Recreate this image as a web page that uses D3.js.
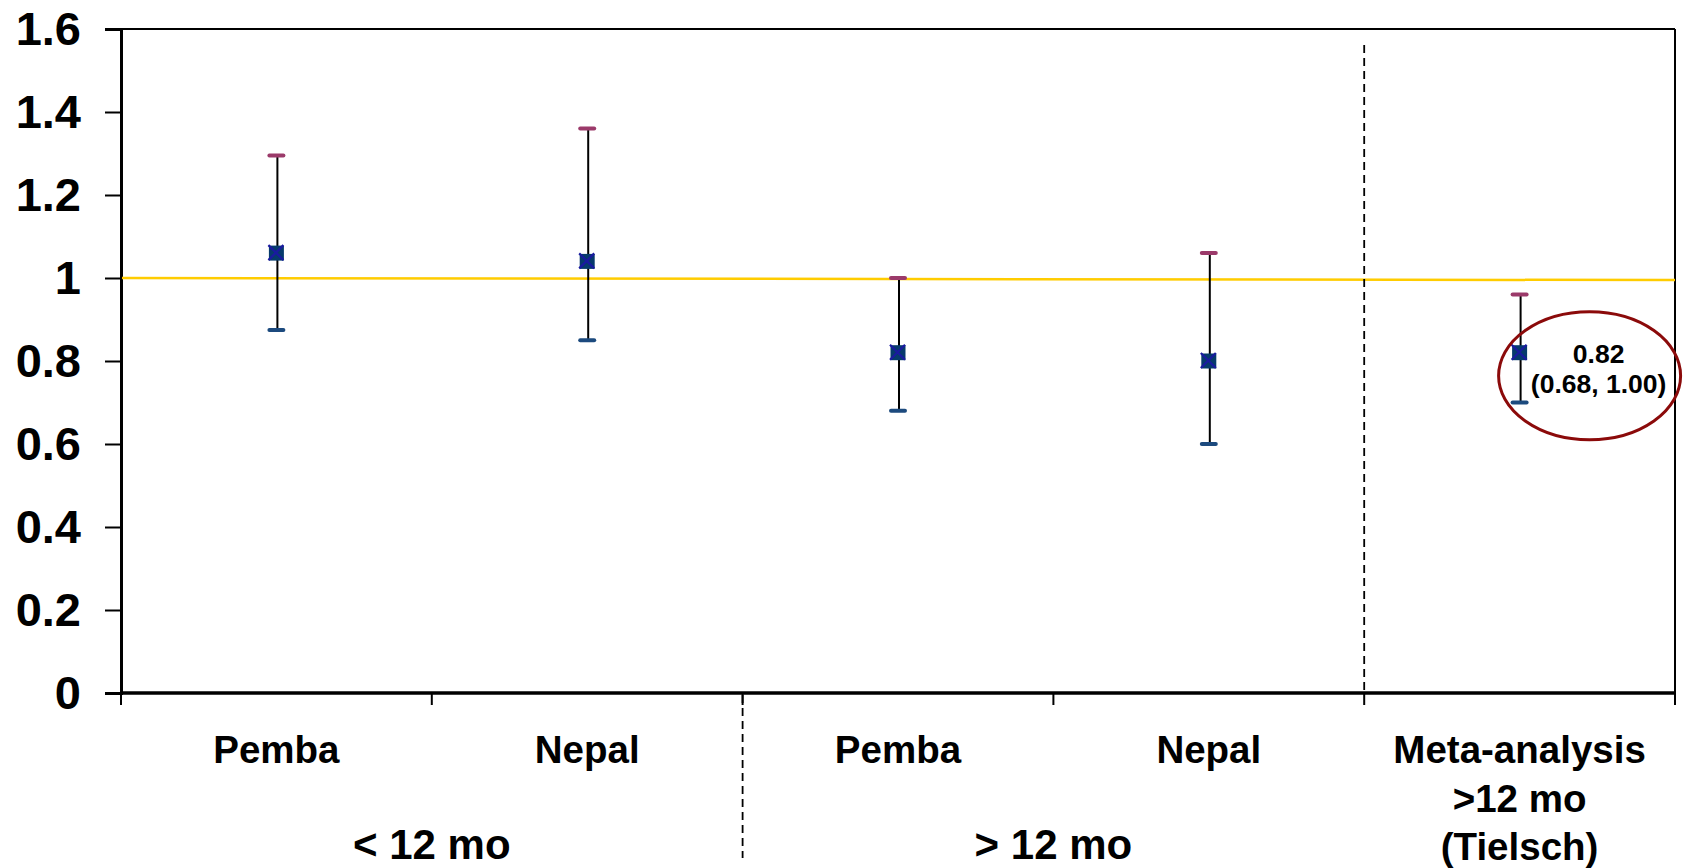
<!DOCTYPE html>
<html>
<head>
<meta charset="utf-8">
<script src="https://cdn.jsdelivr.net/npm/d3@7"></script>
<style>
  html, body { margin: 0; padding: 0; background: #fff; }
  svg { display: block; }
  text { font-family: "Liberation Sans", Arial, Helvetica, sans-serif; font-weight: bold; fill: #000; }
</style>
</head>
<body>
<svg id="chart" width="1684" height="868"></svg>
<script>
// ---- data ----
const categories = ["Pemba <12", "Nepal <12", "Pemba >12", "Nepal >12", "Meta"];
const categoryLabels = [["Pemba"], ["Nepal"], ["Pemba"], ["Nepal"], ["Meta-analysis", ">12 mo", "(Tielsch)"]];
const estimates = [1.06, 1.04, 0.82, 0.80, 0.82];
const lowerCI   = [0.875, 0.85, 0.68, 0.60, 0.70];
const upperCI   = [1.295, 1.36, 1.00, 1.06, 0.96];
const groupLabels = ["< 12 mo", "> 12 mo"];
const groupSpans  = [[0, 1], [2, 3]];
const yTicks = [0, 0.2, 0.4, 0.6, 0.8, 1.0, 1.2, 1.4, 1.6];
const refLine = [1.0, 0.995];           // null line (drawn slightly tilted in original)
const annotationLines = ["0.82", "(0.68, 1.00)"];
const annotationIndex = 4;

// ---- layout ----
const svg = d3.select("#chart");
const mLeft = 121, mRight = 1675, mTop = 29, mBottom = 693;

const x = d3.scaleBand().domain(categories).range([mLeft, mRight]).padding(0);
const y = d3.scaleLinear().domain([0, 1.6]).range([mBottom, mTop]);
const cx = i => x(categories[i]) + x.bandwidth() / 2;

// frame top/right
svg.append("line").attr("x1", mLeft).attr("x2", mRight).attr("y1", y(1.6)).attr("y2", y(1.6))
  .attr("stroke", "#000").attr("stroke-width", 2);
svg.append("line").attr("x1", mRight).attr("x2", mRight).attr("y1", y(1.6)).attr("y2", mBottom)
  .attr("stroke", "#000").attr("stroke-width", 2);

// y axis
const yAxis = svg.append("g").attr("transform", `translate(${mLeft},0)`)
  .call(d3.axisLeft(y).tickValues(yTicks).tickFormat(d3.format("~g")).tickSize(16).tickPadding(24));
yAxis.select(".domain").attr("stroke", "#000").attr("stroke-width", 3);
yAxis.selectAll(".tick line").attr("stroke", "#000").attr("stroke-width", 2);
yAxis.selectAll(".tick text").attr("font-size", 47).attr("font-family", "Liberation Sans, Arial, sans-serif")
  .attr("font-weight", "bold").attr("fill", "#000");

// x axis (boundaries as ticks)
const boundaries = categories.map(c => x(c)).concat([mRight]);
svg.append("line").attr("x1", mLeft).attr("x2", mRight).attr("y1", mBottom).attr("y2", mBottom)
  .attr("stroke", "#000").attr("stroke-width", 3.5);
svg.selectAll(".xtick").data(boundaries).join("line").attr("class", "xtick")
  .attr("x1", d => d).attr("x2", d => d).attr("y1", mBottom).attr("y2", mBottom + 12)
  .attr("stroke", "#000").attr("stroke-width", 2);

// reference line at 1
svg.append("line")
  .attr("x1", mLeft + 1).attr("x2", mRight)
  .attr("y1", y(refLine[0])).attr("y2", y(refLine[1]))
  .attr("stroke", "#ffcc00").attr("stroke-width", 2.5);

// dashed separators
svg.append("line")
  .attr("x1", x(categories[4])).attr("x2", x(categories[4]))
  .attr("y1", 45).attr("y2", mBottom)
  .attr("stroke", "#000").attr("stroke-width", 1.8).attr("stroke-dasharray", "8,5");
svg.append("line")
  .attr("x1", x(categories[2])).attr("x2", x(categories[2]))
  .attr("y1", mBottom + 2).attr("y2", 858)
  .attr("stroke", "#000").attr("stroke-width", 1.8).attr("stroke-dasharray", "8,5");

// error bars
const g = svg.append("g");
categories.forEach((c, i) => {
  const xc = cx(i);
  g.append("line").attr("x1", xc + 1).attr("x2", xc + 1)
    .attr("y1", y(upperCI[i])).attr("y2", y(lowerCI[i]))
    .attr("stroke", "#000").attr("stroke-width", 2);
  g.append("line").attr("x1", xc - 7).attr("x2", xc + 7)
    .attr("y1", y(upperCI[i])).attr("y2", y(upperCI[i]))
    .attr("stroke", "#9b3a6a").attr("stroke-width", 4).attr("stroke-linecap", "round");
  g.append("line").attr("x1", xc - 7).attr("x2", xc + 7)
    .attr("y1", y(lowerCI[i])).attr("y2", y(lowerCI[i]))
    .attr("stroke", "#1c4a7e").attr("stroke-width", 4).attr("stroke-linecap", "round");
  // marker: square + X
  const ym = y(estimates[i]);
  g.append("rect").attr("x", xc - 7.5).attr("y", ym - 7.5).attr("width", 15).attr("height", 15)
    .attr("fill", "#063a6c");
  g.append("path")
    .attr("d", `M${xc - 8},${ym - 8}L${xc + 7},${ym + 7}M${xc + 7},${ym - 8}L${xc - 8},${ym + 7}`)
    .attr("stroke", "#1a1aa0").attr("stroke-width", 2.2);
});

// category labels
categoryLabels.forEach((lines, i) => {
  lines.forEach((t, k) => {
    svg.append("text").attr("x", cx(i)).attr("y", 763 + k * 48.5)
      .attr("text-anchor", "middle").attr("font-size", 38.5).text(t);
  });
});

// group labels
groupLabels.forEach((t, j) => {
  const [a, b] = groupSpans[j];
  const gx = (x(categories[a]) + x(categories[b]) + x.bandwidth()) / 2;
  svg.append("text").attr("x", gx).attr("y", 859)
    .attr("text-anchor", "middle").attr("font-size", 42).text(t);
});

// annotation with ellipse
const ax = cx(annotationIndex);
const ay = y(estimates[annotationIndex]);
svg.append("ellipse").attr("cx", ax + 70).attr("cy", ay + 23).attr("rx", 91).attr("ry", 64)
  .attr("fill", "none").attr("stroke", "#8b0a0a").attr("stroke-width", 3);
annotationLines.forEach((t, k) => {
  svg.append("text").attr("x", ax + 79).attr("y", ay + 10 + k * 30)
    .attr("text-anchor", "middle").attr("font-size", 26.5).text(t);
});
</script>
</body>
</html>
